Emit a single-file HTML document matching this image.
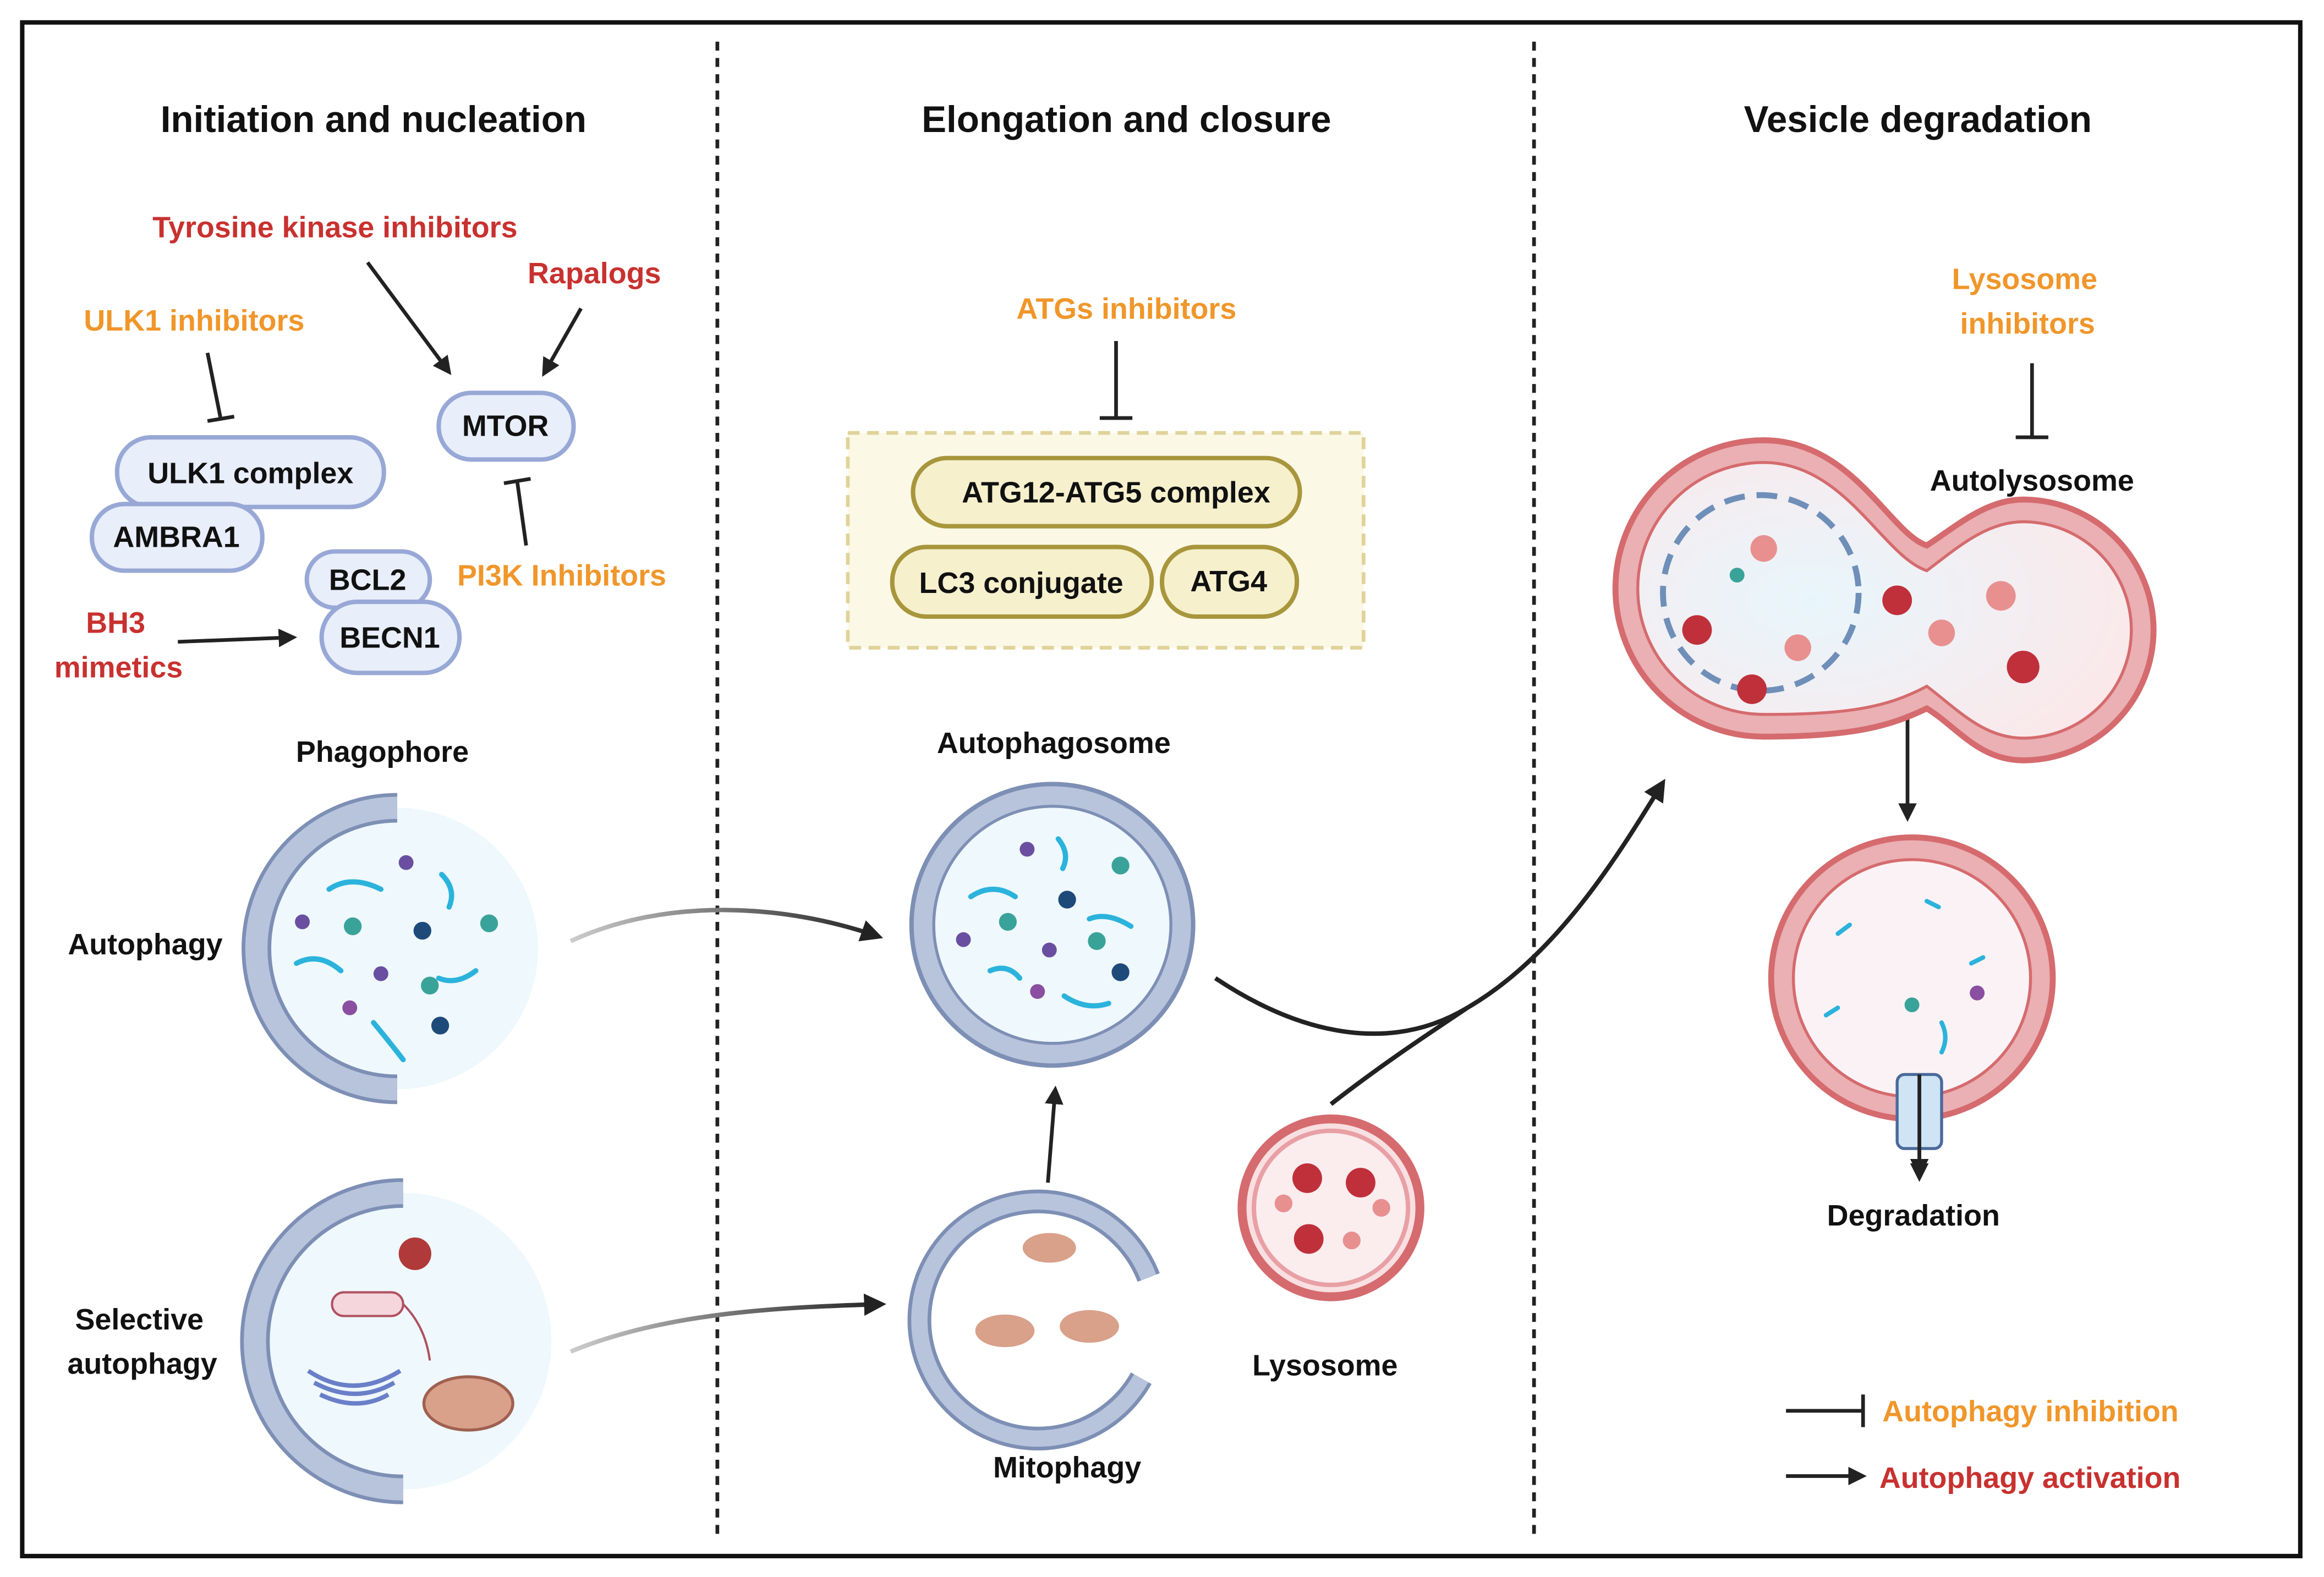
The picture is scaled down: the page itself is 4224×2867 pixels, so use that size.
<!DOCTYPE html>
<html><head><meta charset="utf-8"><style>
html,body{margin:0;padding:0;background:#fff;}
svg{display:block;}
text{font-family:"Liberation Sans",sans-serif;font-weight:bold;}
</style></head><body>
<svg width="4224" height="2867" viewBox="0 0 1568 1064" xmlns="http://www.w3.org/2000/svg">
<defs>
<marker id="ah" viewBox="0 0 10 10" refX="8" refY="5" markerWidth="5" markerHeight="5" orient="auto"><path d="M0,0 L10,5 L0,10 z" fill="#222"/></marker>
<linearGradient id="gr1" x1="0" x2="1"><stop offset="0" stop-color="#ccc"/><stop offset="1" stop-color="#222"/></linearGradient>
<radialGradient id="pinkg" cx="0.35" cy="0.5" r="0.7"><stop offset="0" stop-color="#e8f6fc"/><stop offset="1" stop-color="#fbe8ea"/></radialGradient>
</defs>
<rect x="0" y="0" width="1568" height="1064" fill="#fff"/>
<rect x="15" y="15" width="1537" height="1035" fill="none" stroke="#111" stroke-width="3"/>
<line x1="484" y1="28" x2="484" y2="1040" stroke="#222" stroke-width="2.5" stroke-dasharray="6,5"/>
<line x1="1035" y1="28" x2="1035" y2="1040" stroke="#222" stroke-width="2.5" stroke-dasharray="6,5"/>

<g font-size="25" fill="#111" text-anchor="middle">
<text x="252" y="89">Initiation and nucleation</text>
<text x="760" y="89">Elongation and closure</text>
<text x="1294" y="89">Vesicle degradation</text>
</g>

<g font-size="20" text-anchor="middle">
<text x="226" y="160" fill="#c8312f">Tyrosine kinase inhibitors</text>
<text x="401" y="191" fill="#c8312f">Rapalogs</text>
<text x="131" y="223" fill="#f0962a">ULK1 inhibitors</text>
<text x="379" y="395" fill="#f0962a">PI3K Inhibitors</text>
<text x="78" y="427" fill="#c8312f">BH3</text>
<text x="80" y="457" fill="#c8312f">mimetics</text>
<text x="760" y="215" fill="#f0962a">ATGs inhibitors</text>
<text x="1366" y="195" fill="#f0962a">Lysosome</text>
<text x="1368" y="225" fill="#f0962a">inhibitors</text>
</g>

<!-- left arrows -->
<g stroke="#222" stroke-width="2.5" fill="none">
<line x1="248" y1="177" x2="303" y2="251" marker-end="url(#ah)"/>
<line x1="392" y1="208" x2="367" y2="252" marker-end="url(#ah)"/>
<line x1="140" y1="238" x2="149" y2="283"/><line x1="140" y1="284" x2="158" y2="281"/>
<line x1="355" y1="368" x2="349" y2="325"/><line x1="340" y1="326" x2="358" y2="323"/>
<line x1="120" y1="433" x2="198" y2="430" marker-end="url(#ah)"/>
<line x1="753" y1="230" x2="753" y2="282"/><line x1="742" y1="282" x2="764" y2="282"/>
<line x1="1371" y1="245" x2="1371" y2="295"/><line x1="1360" y1="295" x2="1382" y2="295"/>
<line x1="707" y1="798" x2="712" y2="735" marker-end="url(#ah)"/>
<line x1="1287" y1="475" x2="1287" y2="552" marker-end="url(#ah)"/>
<line x1="1295" y1="730" x2="1295" y2="795" marker-end="url(#ah)"/>
<line x1="1205" y1="952" x2="1257" y2="952"/><line x1="1257" y1="941" x2="1257" y2="963"/>
<line x1="1205" y1="996" x2="1257" y2="996" marker-end="url(#ah)"/>
</g>

<!-- pills -->
<g fill="#e8eefa" stroke="#98a8d6" stroke-width="3">
<rect x="296" y="265" width="91" height="45" rx="22"/>
<rect x="79" y="295" width="180" height="47" rx="23"/>
<rect x="62" y="340" width="115" height="45" rx="22"/>
<rect x="207" y="372" width="83" height="38" rx="19"/>
<rect x="217" y="406" width="93" height="48" rx="24"/>
</g>
<g font-size="20" fill="#111" text-anchor="middle">
<text x="341" y="294">MTOR</text>
<text x="169" y="326">ULK1 complex</text>
<text x="119" y="369">AMBRA1</text>
<text x="248" y="398">BCL2</text>
<text x="263" y="437">BECN1</text>
</g>

<rect x="572" y="292" width="348" height="145" fill="#fbf8e6" stroke="#e0d39a" stroke-width="2.5" stroke-dasharray="8,5"/>
<g fill="#f6f0cc" stroke="#a8963c" stroke-width="3">
<rect x="616" y="309" width="261" height="46" rx="23"/>
<rect x="602" y="369" width="175" height="47" rx="23"/>
<rect x="784" y="369" width="91" height="47" rx="23"/>
</g>
<g font-size="20" fill="#111" text-anchor="middle">
<text x="753" y="339">ATG12-ATG5 complex</text>
<text x="689" y="400">LC3 conjugate</text>
<text x="829" y="399">ATG4</text>
</g>

<!-- labels -->
<g font-size="20" fill="#111" text-anchor="middle">
<text x="258" y="514">Phagophore</text>
<text x="98" y="644">Autophagy</text>
<text x="94" y="897">Selective</text>
<text x="96" y="927">autophagy</text>
<text x="711" y="508">Autophagosome</text>
<text x="720" y="997">Mitophagy</text>
<text x="894" y="928">Lysosome</text>
<text x="1371" y="331">Autolysosome</text>
<text x="1291" y="827">Degradation</text>
</g>
<text x="1270" y="959" font-size="20" fill="#f0962a">Autophagy inhibition</text>
<text x="1268" y="1004" font-size="20" fill="#c8312f">Autophagy activation</text>

<!-- phagophore -->
<circle cx="268" cy="640" r="95" fill="#eef8fd"/>
<path d="M268,545 A95,95 0 0 0 268,735" fill="none" stroke="#7e8fb5" stroke-width="20"/>
<path d="M268,545 A95,95 0 0 0 268,735" fill="none" stroke="#b8c4dc" stroke-width="15"/>
<g fill="none" stroke="#2bb3dc" stroke-width="3.5" stroke-linecap="round">
<path d="M222,600 q15,-10 35,0"/><path d="M298,590 q10,10 5,22"/><path d="M200,650 q15,-8 30,5"/><path d="M296,660 q12,5 25,-5"/><path d="M252,690 q10,12 20,25"/>
</g>
<g><circle cx="238" cy="625" r="6" fill="#3aa399"/><circle cx="285" cy="628" r="6" fill="#1e4a7a"/><circle cx="330" cy="623" r="6" fill="#3aa399"/><circle cx="290" cy="665" r="6" fill="#3aa399"/><circle cx="297" cy="692" r="6" fill="#1e4a7a"/>
<circle cx="204" cy="622" r="5" fill="#6a4fa0"/><circle cx="274" cy="582" r="5" fill="#6a4fa0"/><circle cx="257" cy="657" r="5" fill="#6a4fa0"/><circle cx="236" cy="680" r="5" fill="#8a4fa0"/></g>

<!-- selective -->
<circle cx="272" cy="905" r="100" fill="#eef8fd"/>
<path d="M272,805 A100,100 0 0 0 272,1005" fill="none" stroke="#7e8fb5" stroke-width="20"/>
<path d="M272,805 A100,100 0 0 0 272,1005" fill="none" stroke="#b8c4dc" stroke-width="15"/>
<circle cx="280" cy="846" r="11" fill="#b03a3a"/>
<rect x="224" y="872" width="48" height="16" rx="8" fill="#f4d6dc" stroke="#b05060" stroke-width="1.5"/>
<path d="M272,880 q15,15 18,38" fill="none" stroke="#b05060" stroke-width="1.5"/>
<path d="M208,925 q30,20 62,0 M212,933 q28,15 54,0 M216,941 q25,12 46,0" fill="none" stroke="#6a7fc8" stroke-width="3"/>
<ellipse cx="316" cy="947" rx="30" ry="18" fill="#d9a08a" stroke="#a06050" stroke-width="2"/>

<!-- autophagosome -->
<circle cx="710" cy="624" r="95" fill="#b8c4dc" stroke="#7e8fb5" stroke-width="3"/>
<circle cx="710" cy="624" r="80" fill="#eef8fd" stroke="#7e8fb5" stroke-width="2"/>
<g fill="none" stroke="#2bb3dc" stroke-width="3.5" stroke-linecap="round">
<path d="M655,605 q15,-10 30,0"/><path d="M714,566 q8,10 3,20"/><path d="M735,620 q12,-5 28,5"/><path d="M668,655 q12,-5 20,5"/><path d="M718,672 q15,10 30,5"/>
</g>
<circle cx="756" cy="584" r="6" fill="#3aa399"/><circle cx="720" cy="607" r="6" fill="#1e4a7a"/><circle cx="680" cy="622" r="6" fill="#3aa399"/><circle cx="740" cy="635" r="6" fill="#3aa399"/><circle cx="756" cy="656" r="6" fill="#1e4a7a"/>
<circle cx="693" cy="573" r="5" fill="#6a4fa0"/><circle cx="650" cy="634" r="5" fill="#6a4fa0"/><circle cx="708" cy="641" r="5" fill="#6a4fa0"/><circle cx="700" cy="669" r="5" fill="#8a4fa0"/>

<!-- mitophagy -->
<path d="M775,862 A80,80 0 1 0 770,930" fill="none" stroke="#7e8fb5" stroke-width="16"/>
<path d="M775,862 A80,80 0 1 0 770,930" fill="none" stroke="#b8c4dc" stroke-width="11"/>
<ellipse cx="708" cy="842" rx="18" ry="10" fill="#d9a08a"/><ellipse cx="678" cy="898" rx="20" ry="11" fill="#d9a08a"/><ellipse cx="735" cy="895" rx="20" ry="11" fill="#d9a08a"/>

<!-- lysosome -->
<circle cx="898" cy="815" r="60" fill="#f9dfe2" stroke="#d56b6e" stroke-width="6"/>
<circle cx="898" cy="815" r="52" fill="#fbecee" stroke="#e8a0a4" stroke-width="3"/>
<g fill="#c0303a"><circle cx="882" cy="795" r="10"/><circle cx="918" cy="798" r="10"/><circle cx="883" cy="836" r="10"/></g>
<g fill="#e89090"><circle cx="866" cy="812" r="6"/><circle cx="932" cy="815" r="6"/><circle cx="912" cy="837" r="6"/></g>

<!-- curved arrows -->
<path d="M385,635 C450,605 530,610 593,632" fill="none" stroke="url(#gr1)" stroke-width="3" marker-end="url(#ah)"/>
<path d="M385,912 C450,885 530,882 595,880" fill="none" stroke="url(#gr1)" stroke-width="3" marker-end="url(#ah)"/>
<path d="M820,660 C880,700 940,710 990,680 C1050,645 1090,580 1122,528" fill="none" stroke="#222" stroke-width="3" marker-end="url(#ah)"/>
<path d="M898,745 C930,720 960,700 990,680" fill="none" stroke="#222" stroke-width="3"/>

<!-- autolysosome -->
<path d="M1190,297 C1250,297 1275,360 1300,368 C1320,355 1340,337 1365,337 A88,88 0 1 1 1365,513 C1335,513 1320,490 1300,478 C1275,490 1250,497 1190,497 A100,100 0 1 1 1190,297 z" fill="#eab0b4" stroke="#d56b6e" stroke-width="4"/>
<path d="M1190,312 C1245,312 1270,375 1300,385 C1320,370 1340,352 1365,352 A73,73 0 1 1 1365,498 C1338,498 1320,478 1300,463 C1272,478 1245,482 1190,482 A85,85 0 1 1 1190,312 z" fill="url(#pinkg)" stroke="#d56b6e" stroke-width="2"/>
<circle cx="1188" cy="400" r="66" fill="none" stroke="#6f8fb8" stroke-width="4" stroke-dasharray="14,8"/>
<g fill="#c0303a"><circle cx="1145" cy="425" r="10"/><circle cx="1280" cy="405" r="10"/><circle cx="1182" cy="465" r="10"/><circle cx="1365" cy="450" r="11"/></g>
<g fill="#e89090"><circle cx="1190" cy="370" r="9"/><circle cx="1213" cy="437" r="9"/><circle cx="1310" cy="427" r="9"/><circle cx="1350" cy="402" r="10"/></g>
<circle cx="1172" cy="388" r="5" fill="#3aa399"/>

<!-- degradation vesicle -->
<circle cx="1290" cy="660" r="95" fill="#eab0b4" stroke="#d56b6e" stroke-width="4"/>
<circle cx="1290" cy="660" r="80" fill="#fbf2f5" stroke="#d56b6e" stroke-width="2"/>
<g stroke="#2bb3dc" stroke-width="3" stroke-linecap="round"><line x1="1240" y1="630" x2="1248" y2="624"/><line x1="1300" y1="608" x2="1308" y2="612"/><line x1="1232" y1="685" x2="1240" y2="680"/><line x1="1330" y1="650" x2="1338" y2="646"/><path d="M1310,690 q5,10 0,20" fill="none"/></g>
<circle cx="1290" cy="678" r="5" fill="#3aa399"/><circle cx="1334" cy="670" r="5" fill="#8a4fa0"/>
<rect x="1280" y="725" width="30" height="50" rx="5" fill="#cfe4f5" stroke="#4a6a9a" stroke-width="2"/>
<line x1="1295" y1="725" x2="1295" y2="792" stroke="#222" stroke-width="2.5" marker-end="url(#ah)"/>
</svg>
</body></html>
